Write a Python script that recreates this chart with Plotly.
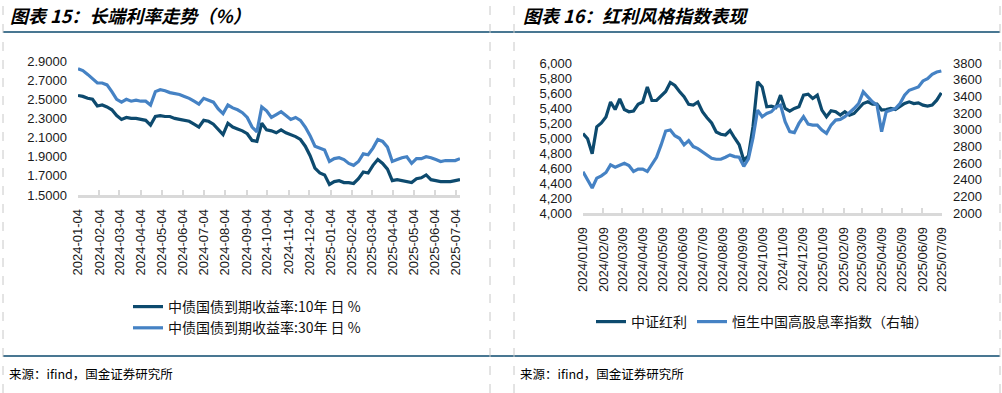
import pandas as pd
import plotly.graph_objects as go

# ---------------- data ----------------
# Panel 1: long-end yields (%), weekly readings
bond_dates = pd.date_range("2024-01-04", periods=80, freq="7D")
y10 = [2.54, 2.53, 2.51, 2.50, 2.43, 2.44, 2.42, 2.39, 2.33, 2.29,
       2.31, 2.30, 2.30, 2.29, 2.28, 2.23, 2.32, 2.33, 2.32, 2.32,
       2.30, 2.29, 2.28, 2.27, 2.24, 2.21, 2.28, 2.27, 2.24, 2.18,
       2.13, 2.25, 2.21, 2.19, 2.17, 2.14, 2.07, 2.06, 2.25, 2.18,
       2.17, 2.15, 2.18, 2.15, 2.13, 2.11, 2.08, 2.01, 1.91, 1.78,
       1.73, 1.71, 1.61, 1.64, 1.65, 1.63, 1.63, 1.62, 1.67, 1.74,
       1.73, 1.81, 1.87, 1.83, 1.77, 1.65, 1.66, 1.65, 1.64, 1.63,
       1.67, 1.68, 1.71, 1.66, 1.65, 1.64, 1.64, 1.64, 1.65, 1.66]
y30 = [2.82, 2.80, 2.76, 2.72, 2.67, 2.67, 2.65, 2.58, 2.50, 2.47,
       2.50, 2.48, 2.49, 2.48, 2.48, 2.44, 2.58, 2.60, 2.59, 2.57,
       2.56, 2.55, 2.53, 2.51, 2.48, 2.45, 2.51, 2.49, 2.47, 2.40,
       2.35, 2.44, 2.41, 2.39, 2.36, 2.31, 2.21, 2.16, 2.42, 2.38,
       2.31, 2.34, 2.37, 2.33, 2.29, 2.31, 2.28, 2.21, 2.12, 2.01,
       1.99, 1.97, 1.85, 1.88, 1.89, 1.87, 1.83, 1.81, 1.85, 1.93,
       1.92, 1.99, 2.08, 2.06, 2.00, 1.85, 1.87, 1.89, 1.90, 1.83,
       1.88, 1.88, 1.90, 1.89, 1.87, 1.85, 1.86, 1.86, 1.86, 1.88]
bond_ticks = ["2024-01-04", "2024-02-04", "2024-03-04", "2024-04-04", "2024-05-04",
              "2024-06-04", "2024-07-04", "2024-08-04", "2024-09-04", "2024-10-04",
              "2024-11-04", "2024-12-04", "2025-01-04", "2025-02-04", "2025-03-04",
              "2025-04-04", "2025-05-04", "2025-06-04", "2025-07-04"]

# Panel 2: dividend style indices, weekly readings
idx_dates = pd.date_range("2024-01-09", periods=79, freq="7D")
csi_div = [5060, 4990, 4790, 5150, 5200, 5280, 5480, 5380, 5520, 5380,
           5350, 5360, 5450, 5480, 5680, 5500, 5500, 5560, 5620, 5740,
           5700, 5620, 5550, 5450, 5440, 5480, 5350, 5270, 5200, 5080,
           5050, 5040, 5100, 5000, 4910, 4700, 4760, 5150, 5750, 5680,
           5416, 5425, 5407, 5571, 5394, 5358, 5394, 5416, 5571, 5584,
           5527, 5571, 5372, 5283, 5363, 5350, 5305, 5350, 5305, 5327,
           5394, 5460, 5482, 5451, 5451, 5372, 5380, 5394, 5380, 5425,
           5460, 5482, 5460, 5469, 5438, 5425, 5438, 5504, 5602]
hs_div = [2494, 2398, 2300, 2418, 2446, 2486, 2578, 2550, 2578, 2597,
          2570, 2498, 2526, 2526, 2498, 2578, 2669, 2817, 2984, 2996,
          2928, 2896, 2817, 2868, 2797, 2773, 2737, 2697, 2657, 2645,
          2645, 2669, 2697, 2677, 2669, 2560, 2650, 2900, 3235, 3155,
          3195, 3215, 3274, 3294, 3095, 2976, 2964, 3075, 3155, 3067,
          3055, 3055, 2996, 2956, 3055, 3115, 3123, 3155, 3203, 3254,
          3314, 3454, 3394, 3334, 3294, 2976, 3215, 3235, 3254, 3314,
          3414, 3473, 3493, 3513, 3585, 3613, 3665, 3692, 3704]
idx_ticks = ["2024/01/09", "2024/02/09", "2024/03/09", "2024/04/09", "2024/05/09",
             "2024/06/09", "2024/07/09", "2024/08/09", "2024/09/09", "2024/10/09",
             "2024/11/09", "2024/12/09", "2025/01/09", "2025/02/09", "2025/03/09",
             "2025/04/09", "2025/05/09", "2025/06/09", "2025/07/09"]

# ---------------- styling ----------------
W, H = 1002, 393
DARK = "#0d4a6e"
LIGHT = "#4582c4"
AXC = "#d9d9d9"
LAT = "Liberation Sans, Arial, Noto Sans CJK SC"
CJK = "Noto Sans CJK SC, Liberation Sans"


def px(x):
    return x / W


def py(y):
    return 1 - y / H


fig = go.Figure()
fig.add_trace(go.Scatter(x=bond_dates, y=y10, mode="lines", name="中债国债到期收益率:10年 日 %",
                         line=dict(color=DARK, width=3.2), xaxis="x", yaxis="y", legend="legend"))
fig.add_trace(go.Scatter(x=bond_dates, y=y30, mode="lines", name="中债国债到期收益率:30年 日 %",
                         line=dict(color=LIGHT, width=3.2), xaxis="x", yaxis="y", legend="legend"))
fig.add_trace(go.Scatter(x=idx_dates, y=csi_div, mode="lines", name="中证红利",
                         line=dict(color=DARK, width=3.2), xaxis="x2", yaxis="y2", legend="legend2"))
fig.add_trace(go.Scatter(x=idx_dates, y=hs_div, mode="lines", name="恒生中国高股息率指数（右轴）",
                         line=dict(color=LIGHT, width=3.2), xaxis="x2", yaxis="y3", legend="legend2"))

xcommon = dict(type="date", showgrid=False, zeroline=False, showline=True, linecolor=AXC,
               linewidth=2.5, ticks="inside", ticklen=5, tickwidth=1.5, tickcolor=AXC,
               tickangle=-90, tickfont=dict(family=LAT, size=13, color="#1a1a1a"),
               ticklabelstandoff=6, automargin=False)
ycommon = dict(showgrid=False, zeroline=False, showline=False, ticks="",
               tickfont=dict(family=LAT, size=13, color="#1a1a1a"), ticklabelstandoff=10,
               automargin=False)

fig.update_layout(
    width=W, height=H, margin=dict(l=0, r=0, t=0, b=0, autoexpand=False),
    paper_bgcolor="white", plot_bgcolor="white",
    xaxis=dict(xcommon, domain=[px(78), px(460)], anchor="y",
               range=["2024-01-04", "2025-07-10"],
               tickvals=bond_ticks, ticktext=bond_ticks),
    yaxis=dict(ycommon, domain=[py(195), py(61)], anchor="x", range=[1.5, 2.9],
               tick0=1.5, dtick=0.2, tickformat=".4f"),
    xaxis2=dict(xcommon, domain=[px(583), px(942)], anchor="y2",
                range=["2024-01-09", "2025-07-09"],
                tickvals=[t.replace("/", "-") for t in idx_ticks], ticktext=idx_ticks),
    yaxis2=dict(ycommon, domain=[py(213), py(63)], anchor="x2", range=[4000, 6000],
                tick0=4000, dtick=200, tickformat=","),
    yaxis3=dict(ycommon, overlaying="y2", side="right", anchor="x2", range=[2000, 3800],
                tick0=2000, dtick=200, tickformat="d"),
    legend=dict(x=px(128), y=py(291), xanchor="left", yanchor="top", orientation="v",
                font=dict(family=CJK, size=14, color="#111"), bgcolor="rgba(0,0,0,0)",
                tracegroupgap=0, itemwidth=30),
    legend2=dict(x=px(591), y=py(322), xanchor="left", yanchor="middle", orientation="h",
                 font=dict(family=CJK, size=14, color="#111"), bgcolor="rgba(0,0,0,0)",
                 itemwidth=30),
    showlegend=True,
)

# titles & sources
for x0, txt in [(8, "图表 15：长端利率走势（%）"), (521, "图表 16：红利风格指数表现")]:
    fig.add_annotation(x=px(x0), y=py(15), xref="paper", yref="paper", xanchor="left",
                       yanchor="middle", showarrow=False, text=txt,
                       font=dict(family=CJK, size=18, color="#000", weight="bold", style="italic"))
for x0 in (7, 518):
    fig.add_annotation(x=px(x0), y=py(373), xref="paper", yref="paper", xanchor="left",
                       yanchor="middle", showarrow=False, text="来源：ifind，国金证券研究所",
                       font=dict(family=CJK, size=12.5, color="#000"))

# frame lines
shapes = []
for yy in (32, 356):
    shapes.append(dict(type="line", xref="paper", yref="paper", x0=px(3), x1=px(1000),
                       y0=py(yy), y1=py(yy), line=dict(color="#0d4a6e", width=1.5)))
for xx in (3, 490, 514, 1000):
    shapes.append(dict(type="line", xref="paper", yref="paper", x0=px(xx), x1=px(xx),
                       y0=0, y1=1, line=dict(color="#c8c8c8", width=1, dash="dash")))
fig.update_layout(shapes=shapes)

fig.write_html("out.html", config={"displayModeBar": False},
               post_script="document.body.style.margin='0px';document.body.style.padding='0px';"
                           "document.body.style.overflow='hidden';")
